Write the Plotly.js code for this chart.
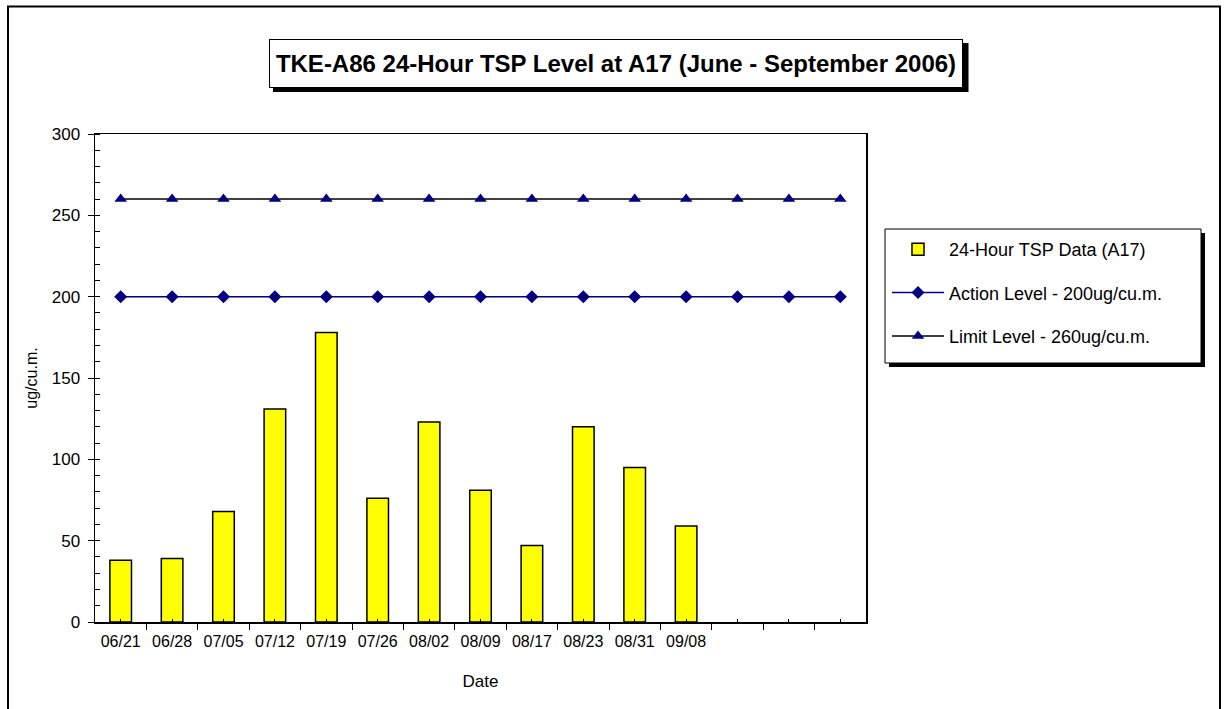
<!DOCTYPE html>
<html>
<head>
<meta charset="utf-8">
<script src="https://cdn.plot.ly/plotly-3.0.1.min.js"></script>
<style>
  html, body { margin: 0; padding: 0; background: #ffffff; }
  #chart { width: 1227px; height: 709px; }
</style>
</head>
<body>
<div id="chart"></div>
<script>
// ---- data ----
const dateLabels = ["06/21", "06/28", "07/05", "07/12", "07/19", "07/26", "08/02", "08/09", "08/17", "08/23", "08/31", "09/08", "", "", ""];
const tspValues = [38, 39, 68, 131, 178, 76, 123, 81, 47, 120, 95, 59, null, null, null];
const actionLevel = [200, 200, 200, 200, 200, 200, 200, 200, 200, 200, 200, 200, 200, 200, 200];
const limitLevel = [260, 260, 260, 260, 260, 260, 260, 260, 260, 260, 260, 260, 260, 260, 260];
const seriesNames = ["24-Hour TSP Data (A17)", "Action Level - 200ug/cu.m.", "Limit Level - 260ug/cu.m."];
const chartTitle = "TKE-A86 24-Hour TSP Level at A17 (June - September 2006)";
const yTitle = "ug/cu.m.";
const xTitle = "Date";

const idx = dateLabels.map((_, i) => i);
const FONT = "Liberation Sans, Arial, sans-serif";

const traces = [
  {
    type: "bar", name: seriesNames[0], x: idx, y: tspValues,
    width: 0.42,
    marker: { color: "#FFFF00", line: { color: "#000000", width: 1.5 } },
    legendgroup: "a"
  },
  {
    type: "scatter", mode: "lines+markers", name: seriesNames[1], x: idx, y: actionLevel,
    line: { color: "#000080", width: 1.5 },
    marker: { symbol: "diamond", color: "#000080", size: 10 },
    legendgroup: "b"
  },
  {
    type: "scatter", mode: "lines+markers", name: seriesNames[2], x: idx, y: limitLevel,
    line: { color: "#000000", width: 1.5 },
    marker: { symbol: "triangle-up", color: "#000080", size: 11 },
    legendgroup: "c"
  }
];

// helpers converting page pixels to paper coords (plot area 95..866 x 134..622)
const L = 95, R = 866, T = 134, B = 622;
const px = p => (p - L) / (R - L);
const py = p => (B - p) / (B - T);

const layout = {
  width: 1227, height: 709,
  margin: { l: L, r: 1227 - R, t: T, b: 709 - B, pad: 0 },
  paper_bgcolor: "#ffffff", plot_bgcolor: "#ffffff",
  font: { family: FONT, size: 16, color: "#000000" },
  showlegend: true,
  xaxis: {
    range: [-0.5, dateLabels.length - 0.5],
    tickmode: "array", tickvals: idx, ticktext: dateLabels,
    ticks: "inside", ticklen: 3, tickwidth: 1, tickcolor: "#000",
    minor: { tick0: -0.5, dtick: 1, ticks: "outside", ticklen: 6, tickwidth: 1, tickcolor: "#000" },
    showline: true, linecolor: "#000", linewidth: 1.5, mirror: true,
    showgrid: false, zeroline: false,
    tickfont: { family: FONT, size: 16 },
    ticklabelstandoff: 4,
    title: { text: xTitle, font: { family: FONT, size: 17 }, standoff: 26 },
    fixedrange: true
  },
  yaxis: {
    range: [0, 300], dtick: 50, tick0: 0,
    ticks: "outside", ticklen: 6, tickwidth: 1, tickcolor: "#000",
    minor: { dtick: 10, ticks: "inside", ticklen: 5, tickwidth: 1, tickcolor: "#000" },
    showline: true, linecolor: "#000", linewidth: 1.5, mirror: true,
    showgrid: false, zeroline: false,
    tickfont: { family: FONT, size: 17 },
    ticklabelstandoff: 4,
    title: { text: yTitle, font: { family: FONT, size: 16 }, standoff: 10 },
    fixedrange: true
  },
  legend: {
    x: px(887), y: py(231), xanchor: "left", yanchor: "top",
    bgcolor: "rgba(0,0,0,0)", borderwidth: 0,
    font: { family: FONT, size: 18 },
    itemwidth: 52,
    tracegroupgap: 17,
    traceorder: "grouped"
  },
  shapes: [
    // outer chart frame
    { type: "rect", xref: "paper", yref: "paper", x0: px(8), x1: px(1220), y0: py(730), y1: py(6.5),
      line: { color: "#000", width: 2 }, fillcolor: "rgba(0,0,0,0)", layer: "below" },
    // title shadow
    { type: "rect", xref: "paper", yref: "paper", x0: px(273), x1: px(968.5), y0: py(92), y1: py(43),
      line: { width: 0 }, fillcolor: "#000", layer: "above" },
    // legend shadow
    { type: "rect", xref: "paper", yref: "paper", x0: px(889), x1: px(1205), y0: py(367), y1: py(233),
      line: { width: 0 }, fillcolor: "#000", layer: "above" },
    // legend box
    { type: "rect", xref: "paper", yref: "paper", x0: px(885), x1: px(1201), y0: py(363), y1: py(229),
      line: { color: "#000", width: 1 }, fillcolor: "#ffffff", layer: "above" }
  ],
  annotations: [
    { text: "<b>" + chartTitle + "</b>", xref: "paper", yref: "paper",
      x: px(616), y: py(63), xanchor: "center", yanchor: "middle",
      showarrow: false, font: { family: FONT, size: 24, color: "#000" },
      bgcolor: "#ffffff", bordercolor: "#000", borderwidth: 1, borderpad: 4,
      width: 684, height: 39 }
  ]
};

Plotly.newPlot("chart", traces, layout, { displayModeBar: false, staticPlot: true });
</script>
</body>
</html>
